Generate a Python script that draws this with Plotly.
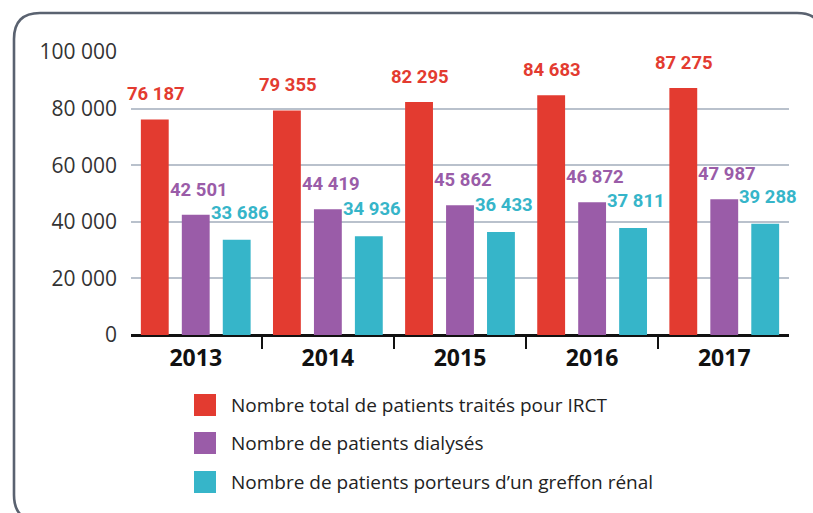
import plotly.graph_objects as go

years = ["2013", "2014", "2015", "2016", "2017"]
total = [76187, 79355, 82295, 84683, 87275]
dialyses = [42501, 44419, 45862, 46872, 47987]
greffes = [33686, 34936, 36433, 37811, 39288]
series_names = [
    "Nombre total de patients traités pour IRCT",
    "Nombre de patients dialysés",
    "Nombre de patients porteurs d’un greffon rénal",
]
y_ticks = [0, 20000, 40000, 60000, 80000, 100000]

colors = ["#e33b30", "#9a5ca8", "#36b5c9"]
series = [total, dialyses, greffes]

W, H = 813, 513
L, R, T, B = 131, 24, 52, 178
pw, ph = W - L - R, H - T - B


def fmt(v):
    return f"{v:,}".replace(",", " ")


fig = go.Figure()
for name, vals, col in zip(series_names, series, colors):
    fig.add_trace(go.Bar(x=years, y=vals, name=name, marker_color=col,
                         marker_line_width=0, showlegend=False, hoverinfo="skip"))

# value labels (x given as category index on the category axis)
label_cfg = [(-40, 12), (3, 12), (44, 14)]
for vals, col, (xs, ys) in zip(series, colors, label_cfg):
    for i, v in enumerate(vals):
        fig.add_annotation(x=i, y=v, text=fmt(v), showarrow=False,
                           xanchor="center", yanchor="bottom", xshift=xs, yshift=ys,
                           font=dict(family="Roboto", size=18.5, color=col, weight=700))

# legend drawn manually
leg_y = [405, 443, 482]
for name, col, py in zip(series_names, colors, leg_y):
    fig.add_shape(type="rect", xref="paper", yref="paper",
                  x0=(194 - L) / pw, x1=(216 - L) / pw,
                  y0=(H - B - (py - 11)) / ph, y1=(H - B - (py + 11)) / ph,
                  fillcolor=col, line_width=0)
    fig.add_annotation(xref="paper", yref="paper", x=(229 - L) / pw,
                       y=(H - B - py) / ph, text=name, showarrow=False,
                       xanchor="left", yanchor="middle",
                       font=dict(family="Open Sans", size=19, color="#222222"))


# rounded border
def px(x):
    return (x - L) / pw


def py_(y):
    return (H - B - y) / ph


x0b, y0b, x1b, y1b, r = 14, 13, 823, 521, 26
path = (f"M {px(x0b)},{py_(y0b + r)} "
        f"Q {px(x0b)},{py_(y0b)} {px(x0b + r)},{py_(y0b)} "
        f"L {px(x1b - r)},{py_(y0b)} Q {px(x1b)},{py_(y0b)} {px(x1b)},{py_(y0b + r)} "
        f"L {px(x1b)},{py_(y1b - r)} Q {px(x1b)},{py_(y1b)} {px(x1b - r)},{py_(y1b)} "
        f"L {px(x0b + r)},{py_(y1b)} Q {px(x0b)},{py_(y1b)} {px(x0b)},{py_(y1b - r)} Z")
fig.add_shape(type="path", xref="paper", yref="paper", path=path,
              line=dict(color="#5a6270", width=2.6))

fig.update_layout(
    width=W, height=H,
    margin=dict(l=L, r=R, t=T, b=B),
    paper_bgcolor="white", plot_bgcolor="white",
    barmode="group", bargap=0.07, bargroupgap=0.32,
    showlegend=False,
    xaxis=dict(type="category", categoryorder="array", categoryarray=years,
               range=[-0.49, len(years) - 0.51],
               tickson="boundaries", ticks="outside", ticklen=13,
               tickwidth=1.6, tickcolor="#111111", showline=False, showgrid=False,
               tickangle=0, ticklabelstandoff=7,
               tickfont=dict(family="Open Sans", size=23, color="#111111", weight=700)),
    yaxis=dict(range=[0, 100000], tickvals=y_ticks,
               ticktext=[fmt(v) for v in y_ticks],
               showgrid=True, gridcolor="#b9c1cc", gridwidth=1.6,
               zeroline=True, zerolinecolor="#111111", zerolinewidth=2.6,
               ticklabelstandoff=13,
               tickfont=dict(family="Open Sans", size=21, color="#333333")),
)

fig.write_html("out.html", config={"displayModeBar": False},
               post_script="document.body.style.margin='0px';")
